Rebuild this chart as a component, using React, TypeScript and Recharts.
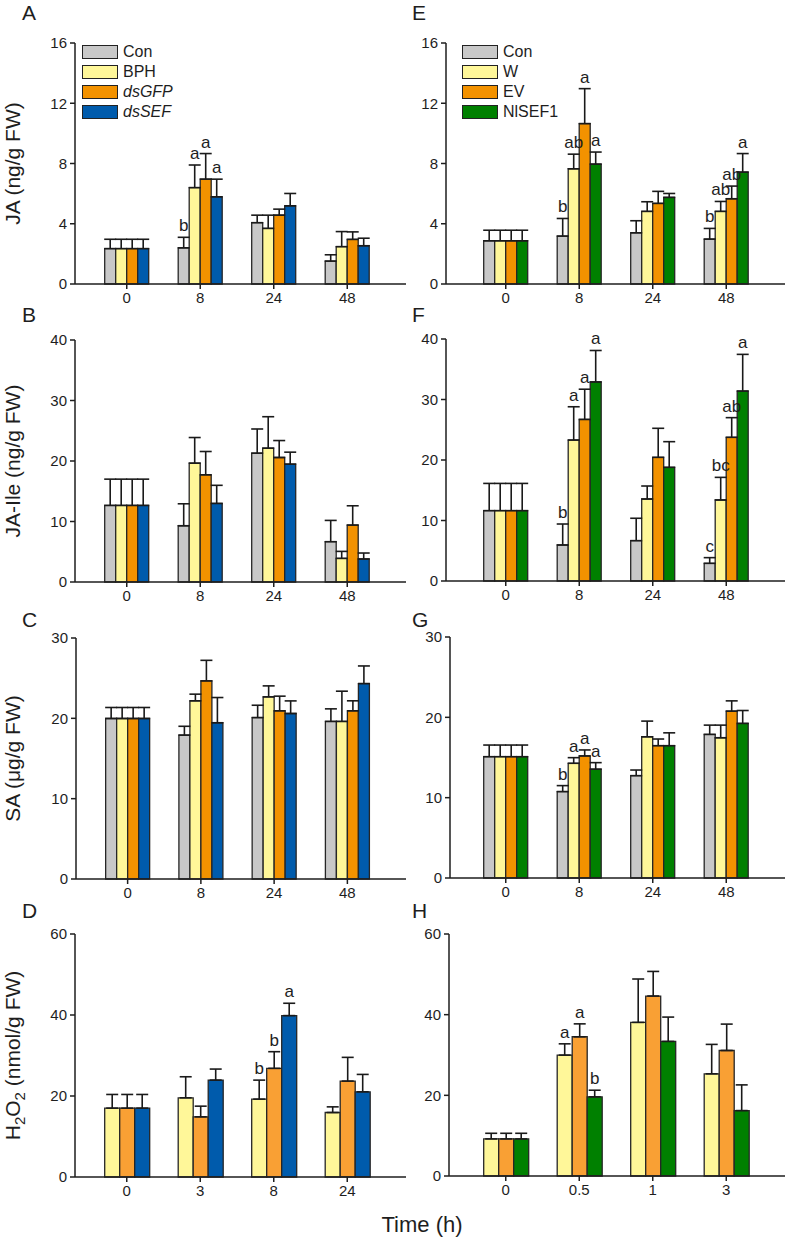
import React from 'react';
import { BarChart, Bar, XAxis, YAxis, ErrorBar, LabelList, Legend } from 'recharts';

const FONT = '"Liberation Sans", Arial, Helvetica, sans-serif';
const INK = '#1e1e1e';

const GRAY = '#c8c8c8';
const YELLOW = '#fff799';
const ORANGE = '#f39200';
const ORANGE_LIGHT = '#f9a034';
const BLUE = '#005bac';
const GREEN = '#008000';

// time points (h)
const hoursJA = ['0', '8', '24', '48'];
const hoursD = ['0', '3', '8', '24'];
const hoursH = ['0', '0.5', '1', '3'];

const namesLeft = ['Con', 'BPH', 'dsGFP', 'dsSEF'];
const namesRight = ['Con', 'W', 'EV', 'NlSEF1'];

// A: JA, rows = Con, BPH, dsGFP, dsSEF
const jaLeftMean = [[2.35, 2.4, 4.07, 1.52], [2.35, 6.4, 3.69, 2.48], [2.35, 6.96, 4.57, 2.96], [2.35, 5.79, 5.19, 2.54]];
const jaLeftErr = [[0.62, 0.7, 0.5, 0.42], [0.62, 1.5, 0.88, 1.0], [0.62, 1.7, 0.4, 0.5], [0.62, 1.17, 0.82, 0.5]];
const jaLeftSig = [['', 'b', '', ''], ['', 'a', '', ''], ['', 'a', '', ''], ['', 'a', '', '']];

// E: JA, rows = Con, W, EV, NlSEF1
const jaRightMean = [[2.87, 3.18, 3.4, 2.98], [2.87, 7.65, 4.82, 4.82], [2.87, 10.65, 5.35, 5.66], [2.87, 7.96, 5.75, 7.43]];
const jaRightErr = [[0.7, 1.17, 0.8, 0.71], [0.7, 0.97, 0.64, 0.66], [0.7, 2.32, 0.8, 0.84], [0.7, 0.8, 0.26, 1.23]];
const jaRightSig = [['', 'b', '', 'b'], ['', 'ab', '', 'ab'], ['', 'a', '', 'ab'], ['', 'a', '', 'a']];

// B: JA-Ile
const ileLeftMean = [[12.65, 9.3, 21.29, 6.66], [12.65, 19.64, 22.12, 3.9], [12.65, 17.72, 20.58, 9.41], [12.65, 12.98, 19.48, 3.8]];
const ileLeftErr = [[4.35, 3.63, 4.0, 3.52], [4.35, 4.24, 5.2, 1.16], [4.35, 3.85, 2.8, 3.19], [4.35, 3.0, 1.98, 0.99]];

// F: JA-Ile
const ileRightMean = [[11.63, 5.95, 6.67, 2.92], [11.63, 23.3, 13.55, 13.39], [11.63, 26.7, 20.44, 23.75], [11.63, 32.9, 18.79, 31.4]];
const ileRightErr = [[4.5, 3.47, 3.7, 0.94], [4.5, 5.5, 2.15, 3.74], [4.5, 5.0, 4.8, 3.25], [4.5, 5.2, 4.24, 6.06]];
const ileRightSig = [['', 'b', '', 'c'], ['', 'a', '', 'bc'], ['', 'a', '', 'ab'], ['', 'a', '', 'a']];

// C: SA
const saLeftMean = [[19.98, 17.91, 20.1, 19.61], [19.98, 22.18, 22.67, 19.61], [19.98, 24.66, 20.94, 20.94], [19.98, 19.45, 20.6, 24.33]];
const saLeftErr = [[1.37, 1.1, 1.53, 1.57], [1.37, 0.83, 1.37, 3.77], [1.37, 2.56, 1.82, 1.24], [1.37, 3.14, 1.57, 2.19]];

// G: SA
const saRightMean = [[15.1, 10.76, 12.74, 17.87], [15.1, 14.28, 17.58, 17.46], [15.1, 15.19, 16.47, 20.77], [15.1, 13.54, 16.47, 19.24]];
const saRightErr = [[1.45, 0.74, 0.7, 1.16], [1.45, 0.7, 1.95, 1.57], [1.45, 0.75, 0.83, 1.28], [1.45, 0.82, 1.6, 1.61]];
const saRightSig = [['', 'b', '', ''], ['', 'a', '', ''], ['', 'a', '', ''], ['', 'a', '', '']];

// D: H2O2, rows = BPH, dsGFP, dsSEF
const h2o2LeftMean = [[17.0, 19.55, 19.22, 15.92], [17.0, 14.85, 26.82, 23.68], [17.0, 23.93, 39.85, 21.04]];
const h2o2LeftErr = [[3.38, 5.2, 4.7, 1.4], [3.38, 2.64, 4.12, 5.86], [3.38, 2.72, 3.05, 4.29]];
const h2o2LeftSig = [['', '', 'b', ''], ['', '', 'b', ''], ['', '', 'a', '']];

// H: H2O2, rows = W, EV, NlSEF1
const h2o2RightMean = [[9.19, 29.97, 38.08, 25.33], [9.19, 34.52, 44.62, 31.12], [9.19, 19.62, 33.36, 16.22]];
const h2o2RightErr = [[1.4, 2.8, 10.76, 7.3], [1.4, 3.2, 6.1, 6.54], [1.4, 1.65, 6.04, 6.37]];
const h2o2RightSig = [['', 'a', '', ''], ['', 'a', '', ''], ['', 'b', '', '']];

const buildRows = (times: string[], means: number[][], errs: number[][]) =>
  times.map((t, i) => {
    const row: any = { t };
    means.forEach((m, s) => {
      row['s' + s] = m[i];
      row['e' + s] = [0, errs[s][i]];
    });
    return row;
  });

interface PanelProps {
  colLeft: number;
  plotLeft: number;
  plotRight: number;
  plotTop: number;
  plotBottom: number;
  padL: number;
  padR: number;
  yMax: number;
  yTicks: number[];
  times: string[];
  means: number[][];
  errs: number[][];
  sig?: string[][];
  colors: string[];
  yLabel?: React.ReactNode;
  legend?: { names: string[]; italic: boolean[]; left: number };
}

const Panel: React.FC<PanelProps> = (p) => {
  const top = p.plotTop - 15;
  const width = p.plotRight - p.colLeft + 2;
  const height = p.plotBottom - top + 40;
  const data = buildRows(p.times, p.means, p.errs);
  const pxPerUnit = (p.plotBottom - p.plotTop) / p.yMax;

  const sigRenderer = (s: number) => (props: any) => {
    const letters = p.sig ? p.sig[s] : [];
    const idx = props.index;
    const txt = letters[idx];
    if (!txt) return null;
    const vb = props.viewBox || props;
    const x = vb.x;
    const w = vb.width;
    const barTop = Math.min(vb.y, vb.y + vb.height);
    const errTop = barTop - p.errs[s][idx] * pxPerUnit;
    return (
      <text x={x + w / 2} y={errTop - 6} textAnchor="middle" fontSize={17} fill={INK} fontFamily={FONT}>
        {txt}
      </text>
    );
  };

  const yLabelRenderer = (props: any) => {
    const vb = props.viewBox;
    const cx = 20;
    const cy = vb.y + vb.height / 2;
    return (
      <text x={cx} y={cy} transform={`rotate(-90 ${cx} ${cy})`} textAnchor="middle" fontSize={21} fill={INK} fontFamily={FONT}>
        {p.yLabel}
      </text>
    );
  };

  const legendContent = () => {
    if (!p.legend) return null;
    return (
      <div style={{ fontFamily: FONT }}>
        {p.legend.names.map((n, i) => (
          <div key={n} style={{ display: 'flex', alignItems: 'center', height: 20 }}>
            <span style={{ width: 36, height: 14, boxSizing: 'border-box', border: '1.5px solid #222', background: p.colors[i], display: 'inline-block' }} />
            <span style={{ marginLeft: 5, fontSize: 16, color: INK, fontStyle: p.legend!.italic[i] ? 'italic' : 'normal' }}>{n}</span>
          </div>
        ))}
      </div>
    );
  };

  return (
    <div style={{ position: 'absolute', left: p.colLeft, top }}>
      <BarChart width={width} height={height} data={data} margin={{ top: 15, right: 2, bottom: 10, left: 0 }} barCategoryGap="20%" barGap={0}>
        <XAxis
          dataKey="t"
          type="category"
          interval={0}
          padding={{ left: p.padL, right: p.padR }}
          height={30}
          tickSize={5}
          tickMargin={3}
          tick={{ fontSize: 15, fill: INK, fontFamily: FONT }}
          axisLine={{ stroke: INK, strokeWidth: 1.5 }}
          tickLine={{ stroke: INK, strokeWidth: 1.5 }}
        />
        <YAxis
          type="number"
          domain={[0, p.yMax]}
          ticks={p.yTicks}
          interval={0}
          width={p.plotLeft - p.colLeft}
          tickSize={5}
          tickMargin={3}
          tick={{ fontSize: 15, fill: INK, fontFamily: FONT }}
          axisLine={{ stroke: INK, strokeWidth: 1.5 }}
          tickLine={{ stroke: INK, strokeWidth: 1.5 }}
          label={p.yLabel ? yLabelRenderer : undefined}
        />
        {p.legend && (
          <Legend
            layout="vertical"
            align="center"
            verticalAlign="middle"
            content={legendContent}
            wrapperStyle={{ position: 'absolute', left: p.legend.left, top: 14, width: 150, height: 82 }}
          />
        )}
        {p.means.map((_, s) => (
          <Bar key={s} dataKey={'s' + s} fill={p.colors[s]} stroke="#262626" strokeWidth={1.3} isAnimationActive={false}>
            <ErrorBar dataKey={'e' + s} direction="y" width={6} strokeWidth={1.6} stroke="#1a1a1a" isAnimationActive={false} />
            {p.sig && <LabelList dataKey={'s' + s} content={sigRenderer(s)} />}
          </Bar>
        ))}
      </BarChart>
    </div>
  );
};

const leftCols = [GRAY, YELLOW, ORANGE, BLUE];
const rightCols = [GRAY, YELLOW, ORANGE, GREEN];

const App: React.FC = () => {
  const leftCol = { colLeft: 0, plotRight: 406, padL: 15, padR: 22 };
  const rightCol = { colLeft: 400, plotRight: 785, padR: 22 };
  return (
    <div style={{ position: 'absolute', left: 0, top: 0, width: 787, height: 1240, background: '#fff', fontFamily: FONT, overflow: 'hidden' }}>
      <Panel {...leftCol} plotLeft={75} plotTop={43} plotBottom={284} yMax={16} yTicks={[0, 4, 8, 12, 16]}
        times={hoursJA} means={jaLeftMean} errs={jaLeftErr} sig={jaLeftSig} colors={leftCols}
        yLabel="JA (ng/g FW)" legend={{ names: namesLeft, italic: [false, false, true, true], left: 82 }} />
      <Panel {...rightCol} plotLeft={446} padL={23} plotTop={43} plotBottom={284} yMax={16} yTicks={[0, 4, 8, 12, 16]}
        times={hoursJA} means={jaRightMean} errs={jaRightErr} sig={jaRightSig} colors={rightCols}
        legend={{ names: namesRight, italic: [false, false, false, false], left: 62 }} />

      <Panel {...leftCol} plotLeft={75} plotTop={340} plotBottom={582} yMax={40} yTicks={[0, 10, 20, 30, 40]}
        times={hoursJA} means={ileLeftMean} errs={ileLeftErr} colors={leftCols} yLabel="JA-Ile (ng/g FW)" />
      <Panel {...rightCol} plotLeft={446} padL={23} plotTop={339} plotBottom={581} yMax={40} yTicks={[0, 10, 20, 30, 40]}
        times={hoursJA} means={ileRightMean} errs={ileRightErr} sig={ileRightSig} colors={rightCols} />

      <Panel {...leftCol} plotLeft={76} plotTop={638} plotBottom={879} yMax={30} yTicks={[0, 10, 20, 30]}
        times={hoursJA} means={saLeftMean} errs={saLeftErr} colors={leftCols} yLabel="SA (μg/g FW)" />
      <Panel {...rightCol} plotLeft={450} padL={19} plotTop={637} plotBottom={878} yMax={30} yTicks={[0, 10, 20, 30]}
        times={hoursJA} means={saRightMean} errs={saRightErr} sig={saRightSig} colors={rightCols} />

      <Panel {...leftCol} plotLeft={75} plotTop={934} plotBottom={1177} yMax={60} yTicks={[0, 20, 40, 60]}
        times={hoursD} means={h2o2LeftMean} errs={h2o2LeftErr} sig={h2o2LeftSig} colors={[YELLOW, ORANGE_LIGHT, BLUE]}
        yLabel={<>H<tspan dy={5} fontSize={15}>2</tspan><tspan dy={-5}>O</tspan><tspan dy={5} fontSize={15}>2</tspan><tspan dy={-5}> (nmol/g FW)</tspan></>} />
      <Panel {...rightCol} plotLeft={449} padL={20} plotTop={934} plotBottom={1176} yMax={60} yTicks={[0, 20, 40, 60]}
        times={hoursH} means={h2o2RightMean} errs={h2o2RightErr} sig={h2o2RightSig} colors={[YELLOW, ORANGE_LIGHT, GREEN]} />

      <svg width={787} height={1240} style={{ position: 'absolute', left: 0, top: 0, pointerEvents: 'none' }}>
        <g fontFamily={FONT} fontSize={21} fill={INK}>
          <text x={22} y={20}>A</text>
          <text x={22} y={322}>B</text>
          <text x={22} y={627}>C</text>
          <text x={22} y={918}>D</text>
          <text x={412} y={20}>E</text>
          <text x={412} y={322}>F</text>
          <text x={412} y={627}>G</text>
          <text x={412} y={918}>H</text>
        </g>
        <text x={422} y={1232} textAnchor="middle" fontFamily={FONT} fontSize={22} fill={INK}>Time (h)</text>
      </svg>
    </div>
  );
};

export default App;
